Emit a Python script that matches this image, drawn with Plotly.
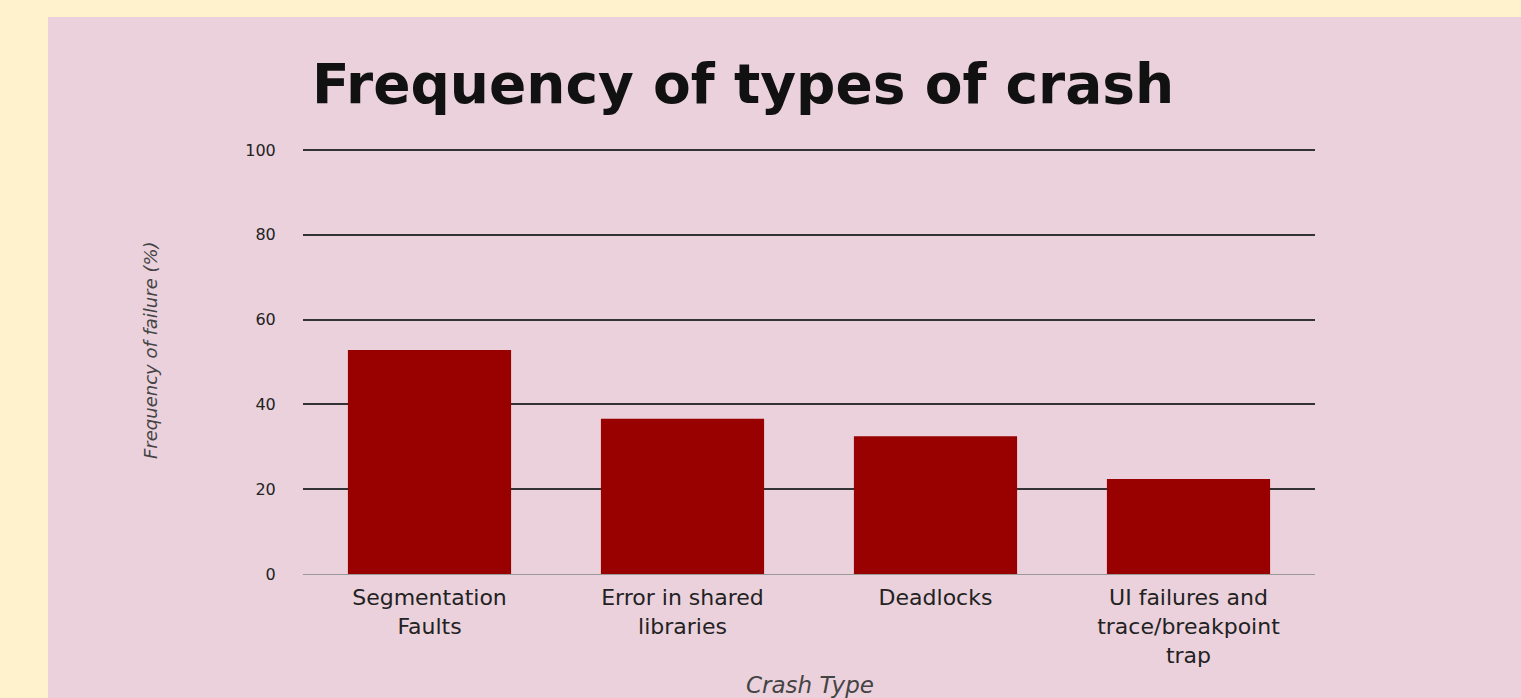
import plotly.graph_objects as go

categories = ["Segmentation<br>Faults", "Error in shared<br>libraries", "Deadlocks",
              "UI failures and<br>trace/breakpoint<br>trap"]
values = [52.8, 36.6, 32.5, 22.4]
y_ticks = [0, 20, 40, 60, 80, 100]

W, H = 1521, 698
FONT = "DejaVu Sans"

def px_x(x):
    return x / W

def px_y(y):
    return (H - y) / H

Y_TOP = 100.4  # tiny headroom so the 100 gridline is drawn
fig = go.Figure(go.Bar(x=categories, y=values, marker=dict(color="#990000", line=dict(width=0)),
                       hoverinfo="skip"))

fig.update_layout(
    template="none",
    width=W, height=H, margin=dict(l=0, r=0, t=0, b=0, autoexpand=False),
    paper_bgcolor="#FFF2CC", plot_bgcolor="rgba(0,0,0,0)",
    showlegend=False, bargap=0.355,
    font=dict(family=FONT, color="#222222"),
    xaxis=dict(domain=[px_x(303), px_x(1315)], showgrid=False, showline=False, zeroline=False,
               automargin=False,
               ticks="outside", ticklen=4, tickcolor="rgba(0,0,0,0)",
               tickfont=dict(size=22, color="#222222", family=FONT), tickangle=0),
    yaxis=dict(domain=[px_y(574), px_y(150 - 0.4 * 4.24)], range=[0, Y_TOP], tickvals=y_ticks,
               automargin=False,
               showgrid=True, gridcolor="#333333", gridwidth=1.5,
               zeroline=True, zerolinecolor="#999999", zerolinewidth=1, showline=False,
               ticks="outside", ticklen=23, tickcolor="rgba(0,0,0,0)",
               tickfont=dict(size=16, color="#222222", family=FONT)),
    shapes=[dict(type="rect", xref="paper", yref="paper", x0=px_x(48), x1=1.01,
                 y0=-0.01, y1=px_y(17), fillcolor="#EAD1DC", line=dict(width=0), layer="below")],
    annotations=[
        dict(text="<b>Frequency of types of crash</b>", x=px_x(743), y=px_y(84), xref="paper", yref="paper",
             xanchor="center", yanchor="middle", showarrow=False,
             font=dict(size=55, color="#111111", family=FONT)),
        dict(text="<i>Frequency of failure (%)</i>", x=px_x(150), y=px_y(350), xref="paper", yref="paper",
             xanchor="center", yanchor="middle", showarrow=False, textangle=-90,
             font=dict(size=18, color="#444444", family=FONT)),
        dict(text="<i>Crash Type</i>", x=px_x(810), y=px_y(685), xref="paper", yref="paper",
             xanchor="center", yanchor="middle", showarrow=False,
             font=dict(size=23, color="#444444", family=FONT)),
    ],
)

fig.write_html("out.html")
